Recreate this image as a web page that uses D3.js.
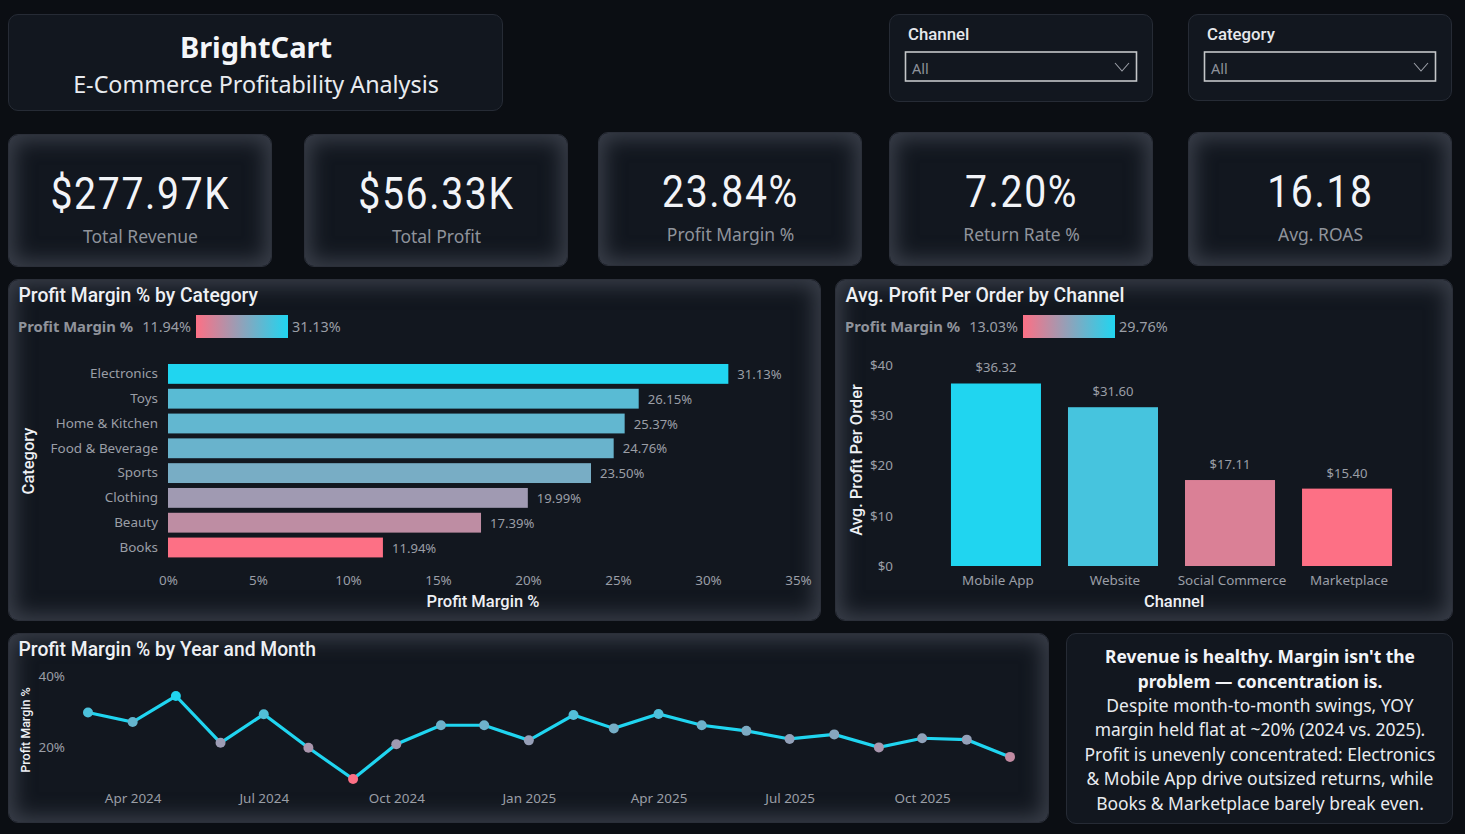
<!DOCTYPE html>
<html>
<head>
<meta charset="utf-8">
<script src="https://cdn.jsdelivr.net/npm/d3@7"></script>
<style>
  html, body { margin:0; padding:0; background:#0b0e13; overflow:hidden; }
  #page { position:relative; width:1465px; height:834px; }
  .card { position:absolute; box-sizing:border-box; background:#12171f; border:1px solid #262b35; border-radius:10px; }
  .glow { box-shadow: inset 0 0 20px 6px rgba(68,72,84,.8); border-color:#2b2f39; }
  svg { position:absolute; left:0; top:0; }
  text { font-family:"Noto Sans", sans-serif; }
  .din { font-family:Roboto, sans-serif; }
  .axis text { fill:#9a9ea6; font-size:13.45px; font-family:"Noto Sans", sans-serif; }
  .axis path, .axis line { display:none; }
</style>
</head>
<body>
<div id="page"><svg id="chart" width="1465" height="834"></svg></div>
<script>
var categories = ["Electronics","Toys","Home & Kitchen","Food & Beverage","Sports","Clothing","Beauty","Books"];
var categoryMargin = [31.13,26.15,25.37,24.76,23.50,19.99,17.39,11.94];

var channels = ["Mobile App","Website","Social Commerce","Marketplace"];
var channelProfit = [36.32,31.60,17.11,15.40];
var channelMargin = [29.76,26.9,15.7,13.03];

var months = ["Mar 2024","Apr 2024","May 2024","Jun 2024","Jul 2024","Aug 2024","Sep 2024","Oct 2024","Nov 2024","Dec 2024","Jan 2025",
              "Feb 2025","Mar 2025","Apr 2025","May 2025","Jun 2025","Jul 2025","Aug 2025","Sep 2025","Oct 2025","Nov 2025","Dec 2025"];
var monthMargin = [29.7,27.0,34.4,21.1,29.2,19.7,10.8,20.7,26.1,26.1,21.8,29.0,25.2,29.3,26.1,24.5,22.2,23.5,19.8,22.4,22.0,17.1];
var monthTicks = ["Apr 2024","Jul 2024","Oct 2024","Jan 2025","Apr 2025","Jul 2025","Oct 2025"];

var kpiValues = ["$277.97K","$56.33K","23.84%","7.20%","16.18"];
var kpiLabels = ["Total Revenue","Total Profit","Profit Margin %","Return Rate %","Avg. ROAS"];

var noteBold = ["Revenue is healthy. Margin isn't the","problem \u2014 concentration is."];
var noteLines = ["Despite month-to-month swings, YOY","margin held flat at ~20% (2024 vs. 2025).","Profit is unevenly concentrated: Electronics",
                 "& Mobile App drive outsized returns, while","Books & Marketplace barely break even."];

var LOW = "#fd7085", HIGH = "#20d5f0";
var page = d3.select("#page");
var svg = d3.select("#chart");
var parseMonth = d3.utcParse("%b %Y");

var addCard = function(x0, y0, x1, y1, glow)
{
  page.insert("div", "svg")
      .attr("class", glow ? "card glow" : "card")
      .style("left", x0 + "px").style("top", y0 + "px")
      .style("width", (x1 - x0) + "px").style("height", (y1 - y0) + "px");
}

var addText = function(txt, x, y, size, fill, opts)
{
  opts = opts || {};
  var t = svg.append("text")
     .attr("x", x).attr("y", y)
     .attr("text-anchor", opts.anchor || "start")
     .attr("dominant-baseline", "central")
     .style("font-size", size + "px")
     .style("fill", fill)
     .text(txt);
  if (opts.bold) t.style("font-weight", "700");
  if (opts.din) { t.attr("class", "din"); t.style("font-weight", opts.weight || "500"); }
  if (opts.spacing) t.style("letter-spacing", opts.spacing + "px");
  if (opts.rotate) t.attr("transform", "rotate(-90 " + x + " " + y + ")");
  if (opts.squeeze) t.attr("transform", "translate(" + x + ",0) scale(" + opts.squeeze + ",1) translate(" + (-x) + ",0)");
  return t;
}

// header and slicers
addCard(8, 14, 503, 111, false);
addCard(889, 14, 1153, 102, false);
addCard(1188, 14, 1452, 101, false);
addText("BrightCart", 256, 46, 29, "#f4f6f9", {anchor:"middle", bold:true});
addText("E-Commerce Profitability Analysis", 256, 83.5, 23.3, "#e8ebef", {anchor:"middle"});

var drawSlicer = function(name, x)
{
  addText(name, x + 20, 34, 16.8, "#e6e8ec", {din:true});
  svg.append("rect").attr("x", x + 17.5).attr("y", 52).attr("width", 231).attr("height", 29)
     .style("fill", "none").style("stroke", "#c4c6c8").style("stroke-width", 1.6);
  addText("All", x + 24, 68, 14.5, "#8e929a");
  svg.append("path").attr("d", d3.line()([[x + 227, 63],[x + 234, 71],[x + 241, 63]]))
     .style("fill", "none").style("stroke", "#9a9ea6").style("stroke-width", 1.1);
}
drawSlicer("Channel", 888);
drawSlicer("Category", 1187);

// kpi cards
var kpiBoxes = [[8,134,272,267],[304,134,568,267],[598,132,862,266],[889,132,1153,266],[1188,132,1452,266]];
var kpiCentres = [140.5,436.5,730.5,1021.5,1320.5];
kpiBoxes.forEach(function(b, i)
{
  addCard(b[0], b[1], b[2], b[3], true);
  addText(kpiValues[i], kpiCentres[i], b[1] + 60, 45, "#f2f4f8", {anchor:"middle", din:true, weight:"400", spacing:1.9, squeeze:0.87});
  addText(kpiLabels[i], kpiCentres[i], b[1] + 102, 17.5, "#8f939b", {anchor:"middle"});
});

// legend with the gradient used by each chart
var defs = svg.append("defs");
var grad = defs.append("linearGradient").attr("id", "legendGrad");
grad.append("stop").attr("offset", "0%").attr("stop-color", LOW);
grad.append("stop").attr("offset", "100%").attr("stop-color", HIGH);

var drawLegend = function(x, low, high)
{
  addText("Profit Margin %", x, 326, 14.8, "#8f939b", {bold:true});
  addText(low, x + 173, 326.5, 14.4, "#9a9ea6", {anchor:"end"});
  svg.append("rect").attr("x", x + 178).attr("y", 315).attr("width", 92).attr("height", 23).style("fill", "url(#legendGrad)");
  addText(high, x + 274, 326.5, 14.4, "#9a9ea6");
}

// profit margin by category
addCard(8, 279, 821, 621, true);
addText("Profit Margin % by Category", 18.5, 295, 19.3, "#eef0f4", {din:true});
drawLegend(18, "11.94%", "31.13%");

var catColor = d3.scaleLinear().domain(d3.extent(categoryMargin)).range([LOW, HIGH]);
var catX = d3.scaleLinear().domain([0, 35]).range([168, 798]);
var catY = d3.scaleBand().domain(categories).range([361.5, 559.9]).paddingInner(0.2).paddingOuter(0.1);

svg.append("g").selectAll("rect")
   .data(categories).enter().append("rect")
   .attr("x", catX(0))
   .attr("y", function(d){ return catY(d); })
   .attr("width", function(d, i){ return catX(categoryMargin[i]) - catX(0); })
   .attr("height", catY.bandwidth())
   .style("fill", function(d, i){ return catColor(categoryMargin[i]); });

svg.append("g").selectAll("text")
   .data(categories).enter().append("text")
   .attr("x", function(d, i){ return catX(categoryMargin[i]) + 9; })
   .attr("y", function(d){ return catY(d) + catY.bandwidth() / 2; })
   .attr("dominant-baseline", "central")
   .style("font-size", "13.1px").style("fill", "#9a9ea6")
   .text(function(d, i){ return categoryMargin[i].toFixed(2) + "%"; });

svg.append("g").attr("class", "axis").attr("transform", "translate(0,580)")
   .call(d3.axisBottom(catX).tickValues(d3.range(0, 36, 5)).tickFormat(function(d){ return d + "%"; }).tickSize(0).tickPadding(0))
   .selectAll("text").attr("dy", 0).attr("dominant-baseline", "central");
svg.append("g").attr("class", "axis").attr("transform", "translate(158,0)")
   .call(d3.axisLeft(catY).tickSize(0).tickPadding(0));
addText("Category", 28, 461, 16.5, "#eef0f4", {anchor:"middle", din:true, rotate:true});
addText("Profit Margin %", 483, 601, 16.5, "#eef0f4", {anchor:"middle", din:true});

// avg profit per order by channel
addCard(835, 279, 1453, 621, true);
addText("Avg. Profit Per Order by Channel", 845.5, 295, 19.4, "#eef0f4", {din:true});
drawLegend(845, "13.03%", "29.76%");

var chColor = d3.scaleLinear().domain(d3.extent(channelMargin)).range([LOW, HIGH]);
var chX = d3.scaleBand().domain(channels).range([937.5, 1405.5]).paddingInner(0.2308).paddingOuter(0.115);
var chY = d3.scaleLinear().domain([0, 40]).range([566, 365]);

svg.append("g").selectAll("rect")
   .data(channels).enter().append("rect")
   .attr("x", function(d){ return chX(d); })
   .attr("y", function(d, i){ return chY(channelProfit[i]); })
   .attr("width", chX.bandwidth())
   .attr("height", function(d, i){ return chY(0) - chY(channelProfit[i]); })
   .style("fill", function(d, i){ return chColor(channelMargin[i]); });

svg.append("g").selectAll("text")
   .data(channels).enter().append("text")
   .attr("x", function(d){ return chX(d) + chX.bandwidth() / 2; })
   .attr("y", function(d, i){ return chY(channelProfit[i]) - 16; })
   .attr("text-anchor", "middle").attr("dominant-baseline", "central")
   .style("font-size", "13.1px").style("fill", "#9a9ea6")
   .text(function(d, i){ return "$" + channelProfit[i].toFixed(2); });

svg.append("g").attr("class", "axis").attr("transform", "translate(2,580)")
   .call(d3.axisBottom(chX).tickSize(0).tickPadding(0))
   .selectAll("text").attr("dy", 0).attr("dominant-baseline", "central");
svg.append("g").attr("class", "axis").attr("transform", "translate(893,0)")
   .call(d3.axisLeft(chY).tickValues([0,10,20,30,40]).tickFormat(function(d){ return "$" + d; }).tickSize(0).tickPadding(0));
addText("Avg. Profit Per Order", 856, 460, 16.5, "#eef0f4", {anchor:"middle", din:true, rotate:true});
addText("Channel", 1174, 601, 16.5, "#eef0f4", {anchor:"middle", din:true});

// profit margin by month
addCard(8, 633, 1049, 823, true);
addText("Profit Margin % by Year and Month", 18.5, 649, 19.3, "#eef0f4", {din:true});

var monthDates = months.map(parseMonth);
var lineColor = d3.scaleLinear().domain(d3.extent(monthMargin)).range([LOW, HIGH]);
var lineX = d3.scaleUtc().domain(d3.extent(monthDates)).range([88, 1010]);
var lineY = d3.scaleLinear().domain([0, 40]).range([817.1, 676.3]);
var monthLine = d3.line()
   .x(function(d){ return lineX(d); })
   .y(function(d, i){ return lineY(monthMargin[i]); });

svg.append("path").datum(monthDates).attr("d", monthLine)
   .style("fill", "none").style("stroke", HIGH).style("stroke-width", 3.2);
svg.append("g").selectAll("circle")
   .data(monthDates).enter().append("circle")
   .attr("cx", function(d){ return lineX(d); })
   .attr("cy", function(d, i){ return lineY(monthMargin[i]); })
   .attr("r", 5)
   .style("fill", function(d, i){ return lineColor(monthMargin[i]); });

svg.append("g").attr("class", "axis").attr("transform", "translate(0,798)")
   .call(d3.axisBottom(lineX).tickValues(monthTicks.map(parseMonth)).tickFormat(d3.utcFormat("%b %Y")).tickSize(0).tickPadding(0))
   .selectAll("text").attr("dy", 0).attr("dominant-baseline", "central");
svg.append("g").attr("class", "axis").attr("transform", "translate(65,0)")
   .call(d3.axisLeft(lineY).tickValues([20,40]).tickFormat(function(d){ return d + "%"; }).tickSize(0).tickPadding(0));
addText("Profit Margin %", 25, 730, 12.5, "#eef0f4", {anchor:"middle", din:true, rotate:true});

// takeaway note
addCard(1066, 633, 1453, 824, false);
noteBold.forEach(function(line, i)
{
  addText(line, 1260, 656 + i * 24.5, 17.4, "#f2f4f8", {anchor:"middle", bold:true});
});
noteLines.forEach(function(line, i)
{
  addText(line, 1260, 705 + i * 24.4, 17.45, "#e8ebef", {anchor:"middle"});
});
</script>
</body>
</html>
